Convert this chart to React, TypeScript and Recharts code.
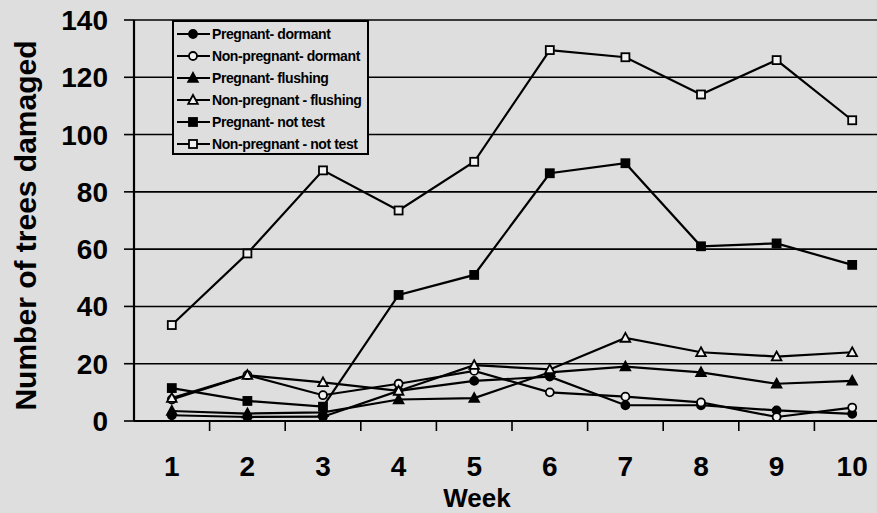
import React from "react";
import { LineChart, Line, XAxis, YAxis, CartesianGrid, Legend, Label } from "recharts";

const weeks = [1, 2, 3, 4, 5, 6, 7, 8, 9, 10];
const pregnantDormant = [2, 1.4, 1.5, 10.5, 14, 15.5, 5.5, 5.5, 3.7, 2.5];
const nonPregnantDormant = [7.5, 16, 9, 13, 17.5, 10, 8.5, 6.5, 1.4, 4.7];
const pregnantFlushing = [3.5, 2.6, 3, 7.5, 8, 17, 19, 17, 13, 14];
const nonPregnantFlushing = [8, 16, 13.5, 10.5, 19.5, 18, 29, 24, 22.5, 24];
const pregnantNotTest = [11.5, 7, 5, 44, 51, 86.5, 90, 61, 62, 54.5];
const nonPregnantNotTest = [33.5, 58.5, 87.5, 73.5, 90.5, 129.5, 127, 114, 126, 105];

const yTicks = [0, 20, 40, 60, 80, 100, 120, 140];
const xTicks = [1, 1.5, 2, 2.5, 3, 3.5, 4, 4.5, 5, 5.5, 6, 6.5, 7, 7.5, 8, 8.5, 9, 9.5, 10];

const BG = "#dedede";
const FONT = "'Liberation Sans', Arial, sans-serif";

type Shape = "circle" | "triangle" | "square";

const series: { key: string; name: string; shape: Shape; filled: boolean; values: number[] }[] = [
  { key: "pd", name: "Pregnant- dormant", shape: "circle", filled: true, values: pregnantDormant },
  { key: "npd", name: "Non-pregnant- dormant", shape: "circle", filled: false, values: nonPregnantDormant },
  { key: "pf", name: "Pregnant- flushing", shape: "triangle", filled: true, values: pregnantFlushing },
  { key: "npf", name: "Non-pregnant - flushing", shape: "triangle", filled: false, values: nonPregnantFlushing },
  { key: "pnt", name: "Pregnant- not test", shape: "square", filled: true, values: pregnantNotTest },
  { key: "npnt", name: "Non-pregnant - not test", shape: "square", filled: false, values: nonPregnantNotTest },
];

const data = weeks.map((week, i) => {
  const row: Record<string, number> = { week };
  series.forEach((s) => (row[s.key] = s.values[i]));
  return row;
});

function marker(shape: Shape, filled: boolean, cx: number, cy: number, key?: React.Key) {
  const fill = filled ? "#000" : "#f2f2f2";
  const common = { fill, stroke: "#000", strokeWidth: 1.8 };
  if (shape === "circle") return <circle key={key} cx={cx} cy={cy} r={4} {...common} />;
  if (shape === "square") return <rect key={key} x={cx - 4} y={cy - 4} width={8} height={8} {...common} />;
  return (
    <polygon
      key={key}
      points={`${cx},${cy - 5} ${cx + 4.8},${cy + 3.8} ${cx - 4.8},${cy + 3.8}`}
      {...common}
    />
  );
}

const dotFor = (shape: Shape, filled: boolean) => (p: any) =>
  marker(shape, filled, p.cx, p.cy, p.index);

const XTick = ({ x, y, payload }: any) => {
  if (Number.isInteger(payload.value)) {
    return (
      <text x={x} y={y + 55} textAnchor="middle" fontSize={28} fontWeight="bold" fontFamily={FONT} fill="#000">
        {payload.value}
      </text>
    );
  }
  return <line x1={x} x2={x} y1={y} y2={y + 10} stroke="#000" strokeWidth={1.6} />;
};

const YTitle = ({ viewBox }: any) => {
  const cy = viewBox.y + viewBox.height / 2 + 5;
  return (
    <text
      x={36}
      y={cy}
      transform={`rotate(-90 36 ${cy})`}
      textAnchor="middle"
      fontSize={30}
      fontWeight="bold"
      fontFamily={FONT}
      fill="#000"
    >
      Number of trees damaged
    </text>
  );
};

const XTitle = () => (
  <text x={477} y={507} textAnchor="middle" fontSize={26} fontWeight="bold" fontFamily={FONT} fill="#000">
    Week
  </text>
);

const LegendBox = () => (
  <div
    style={{
      width: 197,
      height: 135,
      boxSizing: "border-box",
      border: "2px solid #000",
      background: BG,
      padding: "1px 0 0 2px",
      fontFamily: FONT,
      fontSize: 14,
      fontWeight: "bold",
      color: "#000",
      letterSpacing: -0.4,
    }}
  >
    {series.map((s) => (
      <div key={s.key} style={{ display: "flex", alignItems: "center", height: 22 }}>
        <svg width={36} height={14} style={{ flex: "none" }}>
          <line x1={1} x2={34} y1={7} y2={7} stroke="#000" strokeWidth={1.8} />
          {marker(s.shape, s.filled, 17, 7)}
        </svg>
        <span style={{ whiteSpace: "nowrap" }}>{s.name}</span>
      </div>
    ))}
  </div>
);

export default function App() {
  return (
    <div
      style={{
        position: "absolute",
        left: 0,
        top: 0,
        width: 877,
        height: 513,
        overflow: "hidden",
        background: BG,
      }}
    >
      <LineChart width={890} height={513} data={data} margin={{ top: 20, right: 0, left: 0, bottom: 0 }}>
        <CartesianGrid vertical={false} stroke="#000" strokeWidth={1.6} />
        <XAxis
          dataKey="week"
          type="number"
          domain={[0.5, 10.5]}
          ticks={xTicks}
          interval={0}
          height={92}
          tickLine={false}
          tickSize={0}
          tickMargin={0}
          tick={<XTick />}
          axisLine={{ stroke: "#000", strokeWidth: 2.2 }}
        >
          <Label content={<XTitle />} />
        </XAxis>
        <YAxis
          domain={[0, 140]}
          ticks={yTicks}
          interval={0}
          width={134}
          tickSize={10}
          tickMargin={16}
          tick={{ fontSize: 28, fontWeight: "bold", fontFamily: FONT, fill: "#000" }}
          tickLine={{ stroke: "#000", strokeWidth: 1.6 }}
          axisLine={{ stroke: "#000", strokeWidth: 2.2 }}
        >
          <Label content={<YTitle />} />
        </YAxis>
        <Legend
          layout="vertical"
          verticalAlign="middle"
          align="center"
          content={<LegendBox />}
          wrapperStyle={{ left: 172, top: 20, width: 197 }}
        />
        {series.map((s) => (
          <Line
            key={s.key}
            dataKey={s.key}
            name={s.name}
            type="linear"
            stroke="#000"
            strokeWidth={2.2}
            dot={dotFor(s.shape, s.filled)}
            activeDot={false}
            isAnimationActive={false}
          />
        ))}
      </LineChart>
    </div>
  );
}
